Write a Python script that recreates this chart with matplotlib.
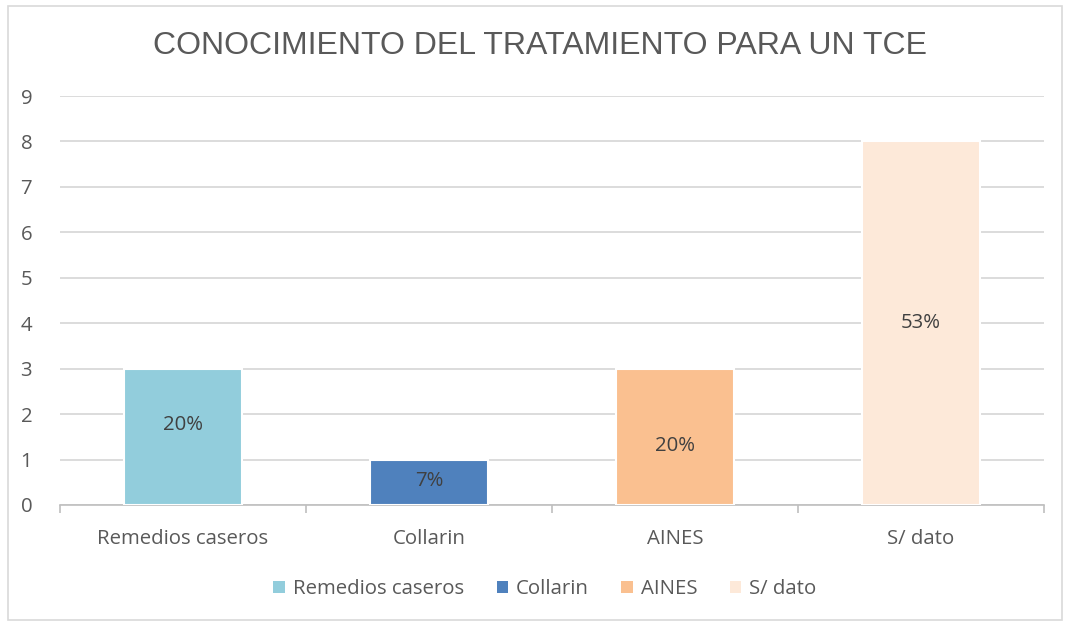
import matplotlib
matplotlib.use('Agg')
import matplotlib.pyplot as plt
from matplotlib.patches import Rectangle, Patch
import numpy as np

# ── data ────────────────────────────────────────────────────
categories = ['Remedios caseros', 'Collarin', 'AINES', 'S/ dato']
counts     = [3, 1, 3, 8]
pct_labels = ['20%', '7%', '20%', '53%']
label_y    = [1.76, 0.53, 1.3, 4.0]   # where the labels sit in the original
colors     = ['#92CDDC', '#4F81BD', '#FAC090', '#FDE9D9']
yticks     = list(range(0, 10))

txt = '#595959'
grid = '#D9D9D9'
font = ['Open Sans', 'DejaVu Sans']
fs = 14.7

fig = plt.figure(figsize=(10.68, 6.23), dpi=100)
W, H = 1068, 623
ax = fig.add_axes([60/W, 1-505/H, (1044-60)/W, (505-96)/H])

x = np.arange(len(categories))
bars = ax.bar(x, counts, width=0.48, color=colors, edgecolor='white',
              linewidth=1.5, zorder=3)
for xi, yl, lab in zip(x, label_y, pct_labels):
    ax.text(xi, yl, lab, ha='center', va='center', fontsize=fs,
            color='#404040', family=font, zorder=4)

ax.set_xlim(-0.5, len(categories) - 0.5)
ax.set_ylim(0, 9)
ax.set_yticks(yticks)
ax.set_yticklabels([str(v) for v in yticks], family=font, fontsize=fs, color=txt)
ax.yaxis.grid(True, color=grid, linewidth=1.3, zorder=0)
ax.set_axisbelow(True)
ax.tick_params(axis='y', length=0, pad=20)

ax.set_xticks(x)
ax.set_xticklabels(categories, family=font, fontsize=fs, color=txt)
ax.tick_params(axis='x', length=0, pad=17)
# boundary tick marks between categories
ax.set_xticks(np.arange(-0.5, len(categories)), minor=True)
ax.tick_params(axis='x', which='minor', length=6, color='#BFBFBF', width=1.2)

for s in ['top', 'right', 'left']:
    ax.spines[s].set_visible(False)
ax.spines['bottom'].set_color('#BFBFBF')
ax.spines['bottom'].set_linewidth(1.2)

fig.text(540/W, 1-46/H, 'CONOCIMIENTO DEL TRATAMIENTO PARA UN TCE',
         ha='center', va='center', fontsize=23, color=txt,
         family=['Liberation Sans', 'DejaVu Sans'])

handles = [Patch(facecolor=c, edgecolor='none') for c in colors]
fig.legend(handles, categories, loc='center', bbox_to_anchor=(545/W, 1-589/H),
           ncol=4, frameon=False, handlelength=0.55, handleheight=0.55,
           handletextpad=0.4, columnspacing=1.6,
           prop={'family': font, 'size': fs}, labelcolor=txt)

# chart area border
fig.patches.append(Rectangle((8/W, 1-620/H), (1062-8)/W, (620-6)/H,
                             transform=fig.transFigure, fill=False,
                             edgecolor=grid, linewidth=1.2))

fig.savefig('out.png', dpi=100, facecolor='white')
